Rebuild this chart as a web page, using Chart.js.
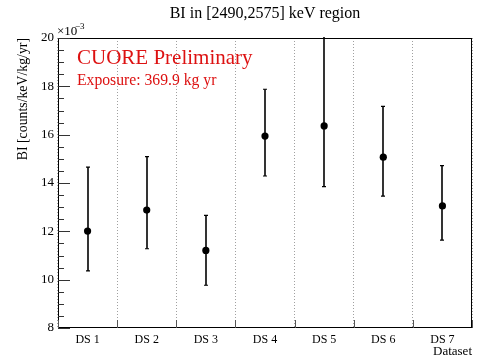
<!DOCTYPE html>
<html>
<head>
<meta charset="utf-8">
<script src="https://cdn.jsdelivr.net/npm/chart.js@4.4.0/dist/chart.umd.min.js"></script>
<style>
  html, body { margin: 0; padding: 0; background: #fff; }
  #wrap { width: 479px; height: 359px; position: relative; }
</style>
</head>
<body>
<div id="wrap"><canvas id="c" width="479" height="359"></canvas></div>
<script>
// Data (values in units of 1e-3 counts/keV/kg/yr)
const categories = ["DS 1", "DS 2", "DS 3", "DS 4", "DS 5", "DS 6", "DS 7"];
const values     = [12.01, 12.88, 11.21, 15.94, 16.36, 15.07, 13.05];
const errHigh    = [14.66, 15.09, 12.66, 17.88, 20.30, 17.17, 14.72];
const errLow     = [10.36, 11.28, 9.77, 14.29, 13.85, 13.46, 11.64];
const yTicks     = [8, 10, 12, 14, 16, 18, 20];

const SERIF = '"Liberation Serif", "DejaVu Serif", serif';

const errorBarPlugin = {
  id: 'errorBars',
  afterDatasetsDraw(chart) {
    const ctx = chart.ctx;
    const xs = chart.scales.x, ys = chart.scales.y;
    const a = chart.chartArea;
    ctx.save();
    ctx.beginPath();
    ctx.rect(a.left, a.top - 1, a.right - a.left, a.bottom - a.top + 2);
    ctx.clip();
    ctx.strokeStyle = '#000';
    for (let i = 0; i < categories.length; i++) {
      const x = Math.round(xs.getPixelForValue(i));
      const yt = ys.getPixelForValue(errHigh[i]);
      const yb = ys.getPixelForValue(errLow[i]);
      ctx.lineWidth = 1.6;
      ctx.beginPath();
      ctx.moveTo(x, yt); ctx.lineTo(x, yb);
      ctx.stroke();
      ctx.lineWidth = 1.2;
      ctx.beginPath();
      ctx.moveTo(x - 2, yt); ctx.lineTo(x + 2, yt);
      ctx.moveTo(x - 2, yb); ctx.lineTo(x + 2, yb);
      ctx.stroke();
    }
    ctx.restore();
  }
};

const framePlugin = {
  id: 'frame',
  afterDraw(chart) {
    const ctx = chart.ctx;
    const a = chart.chartArea;
    const ys = chart.scales.y, xs = chart.scales.x;
    ctx.save();
    ctx.strokeStyle = '#000';
    ctx.lineWidth = 1;
    ctx.strokeRect(a.left + 0.5, a.top + 0.5, a.right - a.left - 1, a.bottom - a.top - 1);
    // y ticks (inward)
    ctx.strokeStyle = '#333';
    for (let v = 8; v <= 20.001; v += 0.5) {
      const y = Math.round(ys.getPixelForValue(v)) + 0.5;
      const major = Math.abs(v - Math.round(v / 2) * 2) < 1e-6;
      const len = major ? 12 : 6;
      ctx.beginPath();
      ctx.moveTo(a.left, y); ctx.lineTo(a.left + len, y);
      ctx.stroke();
    }
    // x ticks at category boundaries (inward from bottom)
    ctx.strokeStyle = '#555';
    for (let i = 0; i <= categories.length; i++) {
      const x = Math.round(xs.getPixelForValue(i - 0.5)) + 0.5;
      ctx.beginPath();
      ctx.moveTo(x, a.bottom); ctx.lineTo(x, a.bottom - 8);
      ctx.stroke();
    }
    // texts
    ctx.fillStyle = '#000';
    ctx.font = '16px ' + SERIF;
    ctx.textAlign = 'center';
    ctx.textBaseline = 'alphabetic';
    ctx.fillText('BI in [2490,2575] keV region', 265, 18);
    ctx.font = '13px ' + SERIF;
    ctx.textAlign = 'left';
    ctx.fillText('\u00d710', 57, 35);
    ctx.font = '9px ' + SERIF;
    ctx.fillText('\u22123', 75, 29);
    ctx.save();
    ctx.translate(27, a.top);
    ctx.rotate(-Math.PI / 2);
    ctx.font = '13.8px ' + SERIF;
    ctx.textAlign = 'right';
    ctx.fillText('BI [counts/keV/kg/yr]', 0, 0);
    ctx.restore();
    ctx.font = '13px ' + SERIF;
    ctx.textAlign = 'right';
    ctx.fillText('Dataset', a.right, 355);
    ctx.fillStyle = '#dd1111';
    ctx.textAlign = 'left';
    ctx.font = '21px ' + SERIF;
    ctx.fillText('CUORE Preliminary', 77, 64);
    ctx.font = '15.7px ' + SERIF;
    ctx.fillText('Exposure: 369.9 kg yr', 77, 85);
    ctx.restore();
  }
};

new Chart(document.getElementById('c'), {
  type: 'line',
  data: {
    labels: categories,
    datasets: [{
      data: values,
      showLine: false,
      pointRadius: 3.6,
      pointHoverRadius: 3.6,
      pointBackgroundColor: '#000',
      pointBorderColor: '#000',
      pointBorderWidth: 0
    }]
  },
  options: {
    responsive: false,
    animation: false,
    devicePixelRatio: 1,
    layout: { padding: { left: 0, top: 38, right: 7, bottom: 0 } },
    plugins: { legend: { display: false }, tooltip: { enabled: false }, title: { display: false } },
    scales: {
      x: {
        type: 'category',
        offset: true,
        grid: {
          offset: true,
          display: true,
          drawTicks: false,
          color: '#a0a0a0',
          lineWidth: 1,
          drawOnChartArea: true
        },
        border: { display: false, dash: [1, 2] },
        ticks: {
          color: '#000',
          font: { family: SERIF, size: 12 },
          padding: 5,
          maxRotation: 0,
          autoSkip: false
        },
        afterFit(s) { s.height = 31; }
      },
      y: {
        type: 'linear',
        min: 8,
        max: 20,
        afterBuildTicks(s) { s.ticks = yTicks.map(v => ({ value: v })); },
        grid: { display: false, drawTicks: false },
        border: { display: false },
        ticks: {
          color: '#000',
          font: { family: SERIF, size: 13 },
          padding: 4
        },
        afterFit(s) { s.width = 58; }
      }
    }
  },
  plugins: [errorBarPlugin, framePlugin]
});
</script>
</body>
</html>
